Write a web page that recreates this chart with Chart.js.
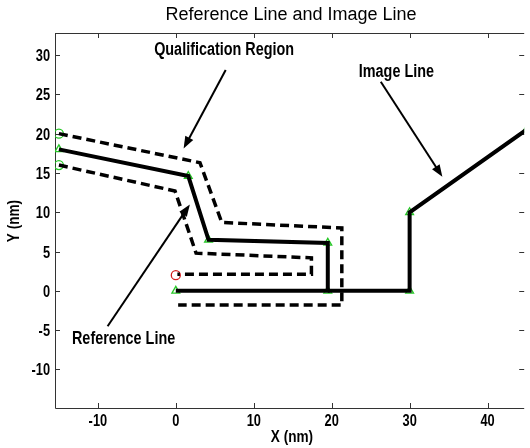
<!DOCTYPE html>
<html>
<head>
<meta charset="utf-8">
<script src="https://cdn.jsdelivr.net/npm/chart.js@4"></script>
<style>
  body { margin: 0; background: #fff; }
  canvas { display: block; }
</style>
</head>
<body>
<canvas id="chart" width="530" height="448"></canvas>
<script>
// tick labels
const xTicks = [-10, 0, 10, 20, 30, 40];
const yTicks = [-10, -5, 0, 5, 10, 15, 20, 25, 30];

// reference line (solid)
const refX = [-15, 1.6, 4.2, 19.5, 19.5, 0];
const refY = [18, 14.6, 6.5, 6.1, 0, 0];

// image line (solid)
const imgX = [19.5, 30, 30, 45];
const imgY = [0, 0, 10, 20.5];

// qualification region, outer and inner borders (dashed)
const outerX = [-15, 3.1, 5.9, 21.3, 21.3, 0.3];
const outerY = [20, 16.3, 8.7, 8.0, -1.8, -1.8];
const innerX = [-15, -0.1, 2.6, 17.4, 17.4, 0.2];
const innerY = [16, 12.7, 4.8, 4.2, 2.1, 2.1];

// markers
const triX = [-15, 1.6, 4.2, 19.5, 19.5, 0, 30, 30, 45];
const triY = [18, 14.6, 6.5, 6.1, 0, 0, 0, 10, 20.5];
const circX = [-15, -15];
const circY = [20, 16];
const redX = [0];
const redY = [2];

// callouts, in data units: [label, textX, textY, fromX, fromY, toX, toY]
const notes = [
  ['Qualification Region', 6.2, 30.0, 6.4, 28.1, 1.0, 18.1],
  ['Image Line', 28.3, 27.2, 26.3, 26.6, 34.2, 14.5],
  ['Reference Line', -6.7, -6.8, -8.75, -4.5, 1.8, 11.0],
];

const pts = (xs, ys) => xs.map((x, i) => ({ x, y: ys[i] }));
const green = 'rgb(40,200,40)';
const sans = '"Liberation Sans", Arial, sans-serif';

// no condensed face installed, so squeeze bold text horizontally
function narrowText(ctx, text, x, y, size, align, baseline) {
  ctx.save();
  ctx.translate(x, y);
  ctx.scale(0.8, 1);
  ctx.font = 'bold ' + size + 'px ' + sans;
  ctx.textAlign = align;
  ctx.textBaseline = baseline || 'alphabetic';
  ctx.fillText(text, 0, 0);
  ctx.restore();
}

function arrow(ctx, x0, y0, x1, y1) {
  const a = Math.atan2(y1 - y0, x1 - x0);
  const L = 12, W = 4.5;
  const c = Math.cos(a), s = Math.sin(a);
  ctx.beginPath();
  ctx.moveTo(x0, y0);
  ctx.lineTo(x1 - L * 0.7 * c, y1 - L * 0.7 * s);
  ctx.stroke();
  ctx.beginPath();
  ctx.moveTo(x1, y1);
  ctx.lineTo(x1 - L * c + W * s, y1 - L * s - W * c);
  ctx.lineTo(x1 - L * c - W * s, y1 - L * s + W * c);
  ctx.closePath();
  ctx.fill();
}

const frame = {
  id: 'frame',
  beforeDatasetsDraw(chart) {
    const { ctx, chartArea: a, scales: { x, y } } = chart;
    ctx.save();
    ctx.strokeStyle = '#333';
    ctx.lineWidth = 1;
    ctx.beginPath();
    ctx.moveTo(a.left + 0.5, a.top + 0.5);
    ctx.lineTo(a.right, a.top + 0.5);
    ctx.moveTo(a.left + 0.5, a.top);
    ctx.lineTo(a.left + 0.5, a.bottom + 0.5);
    ctx.lineTo(a.right, a.bottom + 0.5);
    xTicks.forEach(v => {
      const p = Math.round(x.getPixelForValue(v)) + 0.5;
      ctx.moveTo(p, a.bottom); ctx.lineTo(p, a.bottom - 5);
      ctx.moveTo(p, a.top); ctx.lineTo(p, a.top + 5);
    });
    yTicks.forEach(v => {
      const p = Math.round(y.getPixelForValue(v)) + 0.5;
      ctx.moveTo(a.left, p); ctx.lineTo(a.left + 5, p);
      ctx.moveTo(a.right, p); ctx.lineTo(a.right - 5, p);
    });
    ctx.stroke();
    ctx.restore();
  },
  afterDraw(chart) {
    const { ctx, chartArea: a, scales: { x, y } } = chart;
    ctx.save();
    ctx.fillStyle = '#000';
    ctx.strokeStyle = '#000';

    // tick labels
    xTicks.forEach(v => narrowText(ctx, String(v), x.getPixelForValue(v), a.bottom + 18, 16, 'center'));
    yTicks.forEach(v => narrowText(ctx, String(v), a.left - 5, y.getPixelForValue(v) + 6, 16, 'right'));

    ctx.font = '18px ' + sans;
    ctx.textAlign = 'center';
    ctx.textBaseline = 'alphabetic';
    ctx.fillText('Reference Line and Image Line', 291, 20);

    narrowText(ctx, 'X (nm)', 292, 442, 17, 'center');
    ctx.save();
    ctx.translate(19, 221);
    ctx.rotate(-Math.PI / 2);
    narrowText(ctx, 'Y (nm)', 0, 0, 17, 'center');
    ctx.restore();

    ctx.lineWidth = 2;
    notes.forEach(([t, tx, ty, x0, y0, x1, y1]) => {
      narrowText(ctx, t, x.getPixelForValue(tx), y.getPixelForValue(ty), 18, 'center');
      arrow(ctx, x.getPixelForValue(x0), y.getPixelForValue(y0),
            x.getPixelForValue(x1), y.getPixelForValue(y1));
    });
    ctx.restore();
  }
};

const line = (data, width, dash) => ({
  data, showLine: true, borderColor: '#000', borderWidth: width,
  borderDash: dash, borderCapStyle: 'butt', borderJoinStyle: 'miter',
  pointRadius: 0, fill: false, tension: 0
});
const marks = (data, style, color) => ({
  data, showLine: false, pointStyle: style, pointRadius: 4.5,
  pointBorderColor: color, pointBackgroundColor: 'rgba(0,0,0,0)', pointBorderWidth: 1.3
});

new Chart(document.getElementById('chart'), {
  type: 'scatter',
  data: {
    datasets: [
      line(pts(outerX, outerY), 3.5, [9, 5]),
      line(pts(innerX, innerY), 3.5, [9, 5]),
      line(pts(refX, refY), 4, []),
      line(pts(imgX, imgY), 4, []),
      marks(pts(triX, triY), 'triangle', green),
      marks(pts(circX, circY), 'circle', green),
      marks(pts(redX, redY), 'circle', 'rgb(210,30,30)'),
    ]
  },
  options: {
    responsive: false,
    animation: false,
    layout: { padding: { top: 33, right: 0, left: 0, bottom: 0 } },
    plugins: { legend: { display: false }, title: { display: false }, tooltip: { enabled: false } },
    scales: {
      x: {
        type: 'linear', min: -15.5, max: 44.7,
        afterBuildTicks: s => { s.ticks = xTicks.map(value => ({ value })); },
        afterFit: s => { s.height = 40; },
        grid: { display: false }, border: { display: false },
        ticks: { display: false }
      },
      y: {
        type: 'linear', min: -14.9, max: 32.8,
        afterBuildTicks: s => { s.ticks = yTicks.map(value => ({ value })); },
        afterFit: s => { s.width = 55; },
        grid: { display: false }, border: { display: false },
        ticks: { display: false }
      }
    }
  },
  plugins: [frame]
});
</script>
</body>
</html>
